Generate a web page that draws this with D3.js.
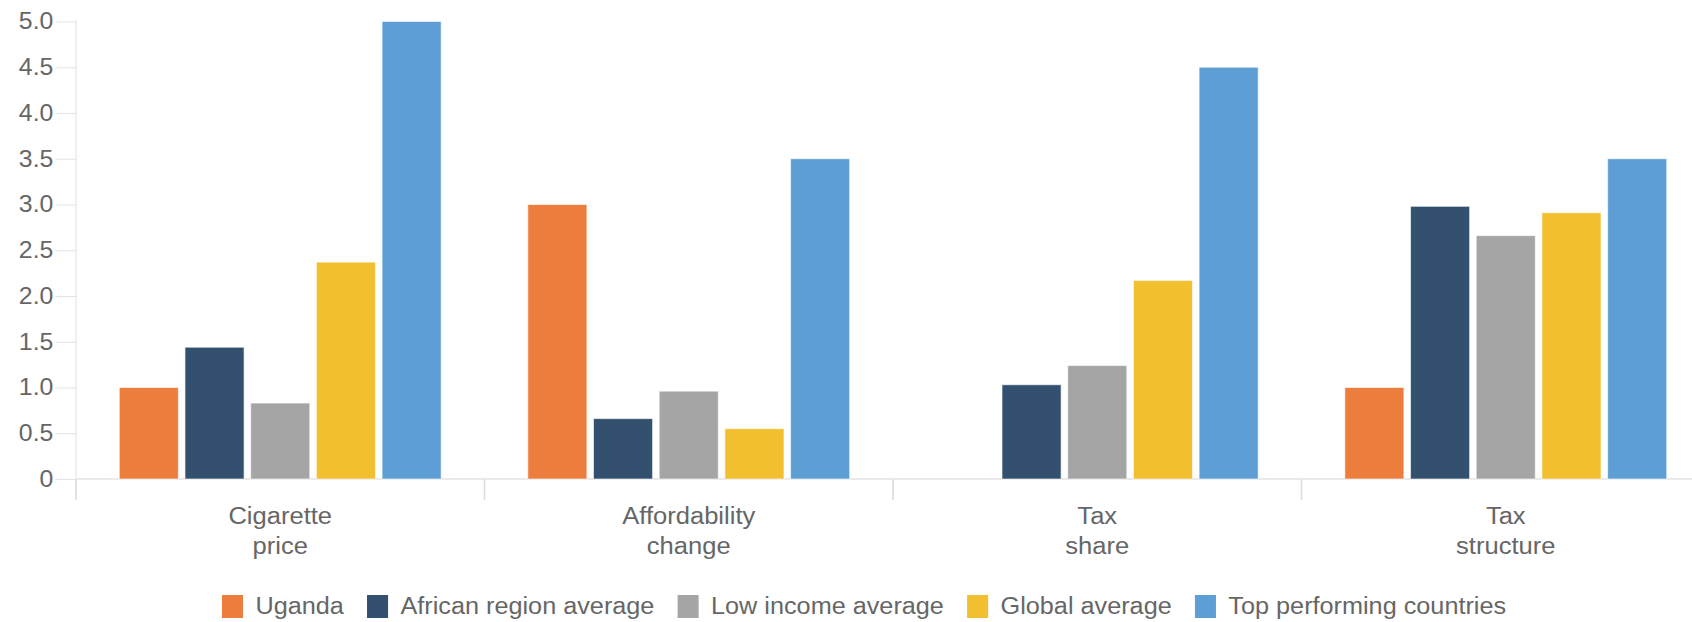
<!DOCTYPE html>
<html>
<head>
<meta charset="utf-8">
<script src="https://cdn.jsdelivr.net/npm/d3@7"></script>
<style>
  body { margin: 0; background: #fff; }
  text { font-family: "Liberation Sans", Arial, sans-serif; fill: #666; }
</style>
</head>
<body>
<div id="container"></div>
<script>
/* DATA */
const categories = [["Cigarette", "price"], ["Affordability", "change"], ["Tax", "share"], ["Tax", "structure"]]
const seriesNames = ["Uganda", "African region average", "Low income average", "Global average", "Top performing countries"]
const colors = ["#ec7d3c", "#34506f", "#a5a5a5", "#f2bf2e", "#5d9ed4"]
const uganda = [1.0, 3.0, 0, 1.0]
const africanAvg = [1.44, 0.66, 1.03, 2.98]
const lowIncomeAvg = [0.83, 0.96, 1.24, 2.66]
const globalAvg = [2.37, 0.55, 2.17, 2.91]
const topCountries = [5.0, 3.5, 4.5, 3.5]
const yTicks = [0, 0.5, 1, 1.5, 2, 2.5, 3, 3.5, 4, 4.5, 5]

const series = [uganda, africanAvg, lowIncomeAvg, globalAvg, topCountries]

/* CONSTANTS - drawn in a 1568 wide space, stretched to 1692 like the source */
const width = 1568, height = 622
const plotLeft = 70.4, plotRight = 1584.7, plotTop = 21.5, plotBottom = 479

const svg = d3.select("#container")
  .append("svg")
  .attr("width", 1692)
  .attr("height", height)
  .attr("viewBox", `0 0 ${width} ${height}`)
  .attr("preserveAspectRatio", "none")

// SCALES
const x0 = d3.scaleBand()
  .domain(d3.range(categories.length))
  .range([plotLeft, plotRight])
  .paddingInner(0.212)
  .paddingOuter(0.106)

const x1 = d3.scaleBand()
  .domain(d3.range(seriesNames.length))
  .range([0, x0.bandwidth()])
  .paddingInner(0.1)

const yScale = d3.scaleLinear()
  .domain([0, 5])
  .range([plotBottom, plotTop])

// Y AXIS
const yAxis = d3.axisLeft(yScale)
  .tickValues(yTicks)
  .tickSize(19)
  .tickPadding(2)
  .tickFormat(d => d === 0 ? "0" : d3.format(".1f")(d))

svg.append("g")
  .attr("transform", `translate(${plotLeft}, 0)`)
  .call(yAxis)
  .call(g => g.select(".domain").attr("stroke", "#e3e3e3").attr("d", `M0,${plotTop - 2}V${plotBottom}`))
  .call(g => g.selectAll(".tick line").attr("stroke", "#e3e3e3"))
  .call(g => g.selectAll(".tick text")
    .style("font-size", "23px")
    .attr("fill", "#666")
    .attr("font-family", "Liberation Sans, Arial, sans-serif"))

// X AXIS baseline and group separators
svg.append("line")
  .attr("x1", plotLeft).attr("x2", width)
  .attr("y1", plotBottom).attr("y2", plotBottom)
  .attr("stroke", "#e3e3e3")
  .attr("stroke-width", 1.5)

const step = x0.step()
svg.selectAll("line.sep")
  .data(d3.range(categories.length))
  .join("line")
  .attr("class", "sep")
  .attr("x1", i => x0(i) - step * x0.paddingOuter())
  .attr("x2", i => x0(i) - step * x0.paddingOuter())
  .attr("y1", plotBottom)
  .attr("y2", plotBottom + 21)
  .attr("stroke", "#dcdcdc")
  .attr("stroke-width", 1.5)

// CATEGORY LABELS
svg.selectAll("text.cat")
  .data(categories)
  .join("text")
  .attr("class", "cat")
  .attr("text-anchor", "middle")
  .style("font-size", "23.7px")
  .attr("transform", (d, i) => `translate(${x0(i) + x0.bandwidth() / 2}, 524)`)
  .selectAll("tspan")
  .data(d => d)
  .join("tspan")
  .attr("x", 0)
  .attr("y", (d, j) => j * 30)
  .text(d => d)

// BARS
const groups = svg.selectAll("g.group")
  .data(categories)
  .join("g")
  .attr("class", "group")
  .attr("transform", (d, i) => `translate(${x0(i)}, 0)`)

groups.selectAll("rect")
  .data((d, i) => series.map((s, k) => ({ k, v: s[i] })).filter(e => e.v > 0))
  .join("rect")
  .attr("x", d => x1(d.k))
  .attr("width", x1.bandwidth())
  .attr("y", d => yScale(d.v))
  .attr("height", d => plotBottom - yScale(d.v))
  .attr("fill", d => colors[d.k])
  .attr("stroke", "#fff")
  .attr("stroke-opacity", 0.6)
  .attr("stroke-width", 1)

// LEGEND
const legend = svg.append("g").attr("transform", "translate(205.7, 0)")
let lx = 0
seriesNames.forEach((name, k) => {
  legend.append("rect")
    .attr("x", lx).attr("y", 595)
    .attr("width", 19.5).attr("height", 23)
    .attr("fill", colors[k])
  const t = legend.append("text")
    .attr("x", lx + 19.5 + 11.5)
    .attr("y", 614)
    .style("font-size", "23.4px")
    .text(name)
  lx += 19.5 + 11.5 + t.node().getComputedTextLength() + 21.5
})
</script>
</body>
</html>
